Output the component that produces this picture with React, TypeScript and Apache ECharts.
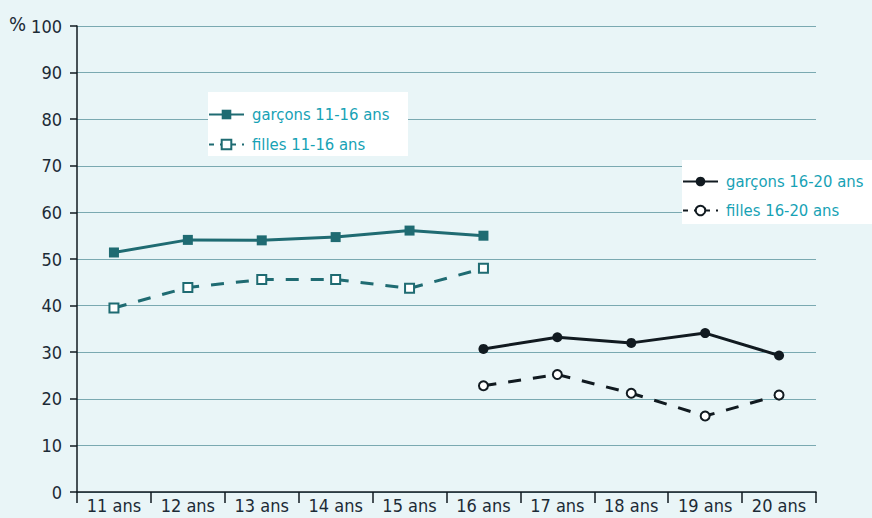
import React, { useEffect, useRef } from "react";
import * as echarts from "echarts";

const categories = ["11 ans", "12 ans", "13 ans", "14 ans", "15 ans", "16 ans", "17 ans", "18 ans", "19 ans", "20 ans"];
const garcons1116 = [51.4, 54.1, 54.0, 54.7, 56.1, 55.0, null, null, null, null];
const filles1116 = [39.5, 43.9, 45.6, 45.6, 43.7, 48.0, null, null, null, null];
const garcons1620 = [null, null, null, null, null, 30.7, 33.2, 32.0, 34.1, 29.3];
const filles1620 = [null, null, null, null, null, 22.8, 25.2, 21.2, 16.3, 20.8];
const seriesNames = ["garçons 11-16 ans", "filles 11-16 ans", "garçons 16-20 ans", "filles 16-20 ans"];

const FONT = "'Liberation Sans Narrow', 'DejaVu Sans Condensed', sans-serif";
const TEAL = "#1f6b72";
const DARK = "#111a20";
const TEXT = "#1c2b36";
const LEG = "#17a2b5";

export default function App() {
  const ref = useRef<HTMLDivElement>(null);
  useEffect(() => {
    if (!ref.current) return;
    const chart = echarts.init(ref.current, null, { renderer: "svg" });
    const dash = [13, 12];
    const legText = { color: LEG, fontFamily: FONT, fontSize: 16.5, padding: [0, 0, 0, 3] };
    chart.setOption({
      animation: false,
      backgroundColor: "#e9f5f7",
      grid: { left: 77, right: 56, top: 26, bottom: 26, containLabel: false },
      xAxis: {
        type: "category",
        data: categories,
        boundaryGap: true,
        axisLine: { lineStyle: { color: DARK, width: 1.5 } },
        axisTick: { show: true, length: 11, lineStyle: { color: DARK, width: 1.5 } },
        axisLabel: { color: TEXT, fontFamily: FONT, fontSize: 18, margin: 4, interval: 0 },
        splitLine: { show: false },
      },
      yAxis: {
        type: "value",
        min: 0,
        max: 100,
        interval: 10,
        axisLine: { show: true, lineStyle: { color: DARK, width: 1.5 } },
        axisTick: { show: true, length: 7, lineStyle: { color: DARK, width: 1.5 } },
        axisLabel: { color: TEXT, fontFamily: FONT, fontSize: 18, margin: 15 },
        splitLine: { show: true, lineStyle: { color: "#7aa9b1", width: 1.2 } },
      },
      legend: [
        {
          data: [
            { name: seriesNames[0] },
            { name: seriesNames[1], lineStyle: { type: [5, 6] } },
          ],
          orient: "vertical",
          left: 208,
          top: 106,
          padding: 0,
          itemWidth: 35,
          itemHeight: 12,
          itemGap: 13,
          textStyle: legText,
        },
        {
          data: [
            { name: seriesNames[2] },
            { name: seriesNames[3], lineStyle: { type: [5, 6] } },
          ],
          orient: "vertical",
          left: 682,
          top: 173,
          padding: 0,
          itemWidth: 35,
          itemHeight: 12,
          itemGap: 12,
          textStyle: legText,
        },
      ],
      graphic: [
        { type: "rect", z: 3, shape: { x: 208, y: 92, width: 200, height: 64 }, style: { fill: "#ffffff" } },
        { type: "rect", z: 3, shape: { x: 682, y: 160, width: 190, height: 64 }, style: { fill: "#ffffff" } },
        {
          type: "text",
          z: 5,
          x: 9,
          y: 24,
          style: { text: "%", fill: TEXT, font: `20px ${FONT}`, verticalAlign: "middle" },
        },
      ],
      series: [
        {
          name: seriesNames[0],
          type: "line",
          data: garcons1116,
          symbol: "rect",
          symbolSize: 10,
          itemStyle: { color: TEAL },
          lineStyle: { color: TEAL, width: 3 },
          z: 5,
        },
        {
          name: seriesNames[1],
          type: "line",
          data: filles1116,
          symbol: "emptyRect",
          symbolSize: 9,
          itemStyle: { color: TEAL, borderWidth: 2.2 },
          lineStyle: { color: TEAL, width: 3, type: dash },
          z: 5,
        },
        {
          name: seriesNames[2],
          type: "line",
          data: garcons1620,
          symbol: "circle",
          symbolSize: 10,
          itemStyle: { color: DARK },
          lineStyle: { color: DARK, width: 3 },
          z: 5,
        },
        {
          name: seriesNames[3],
          type: "line",
          data: filles1620,
          symbol: "emptyCircle",
          symbolSize: 9,
          itemStyle: { color: DARK, borderWidth: 2.2 },
          lineStyle: { color: DARK, width: 3, type: dash },
          z: 5,
        },
      ],
    });
    return () => chart.dispose();
  }, []);
  return (
    <div style={{ position: "fixed", left: 0, top: 0, width: 872, height: 518, background: "#e9f5f7" }}>
      <div ref={ref} style={{ width: 872, height: 518 }} />
    </div>
  );
}
